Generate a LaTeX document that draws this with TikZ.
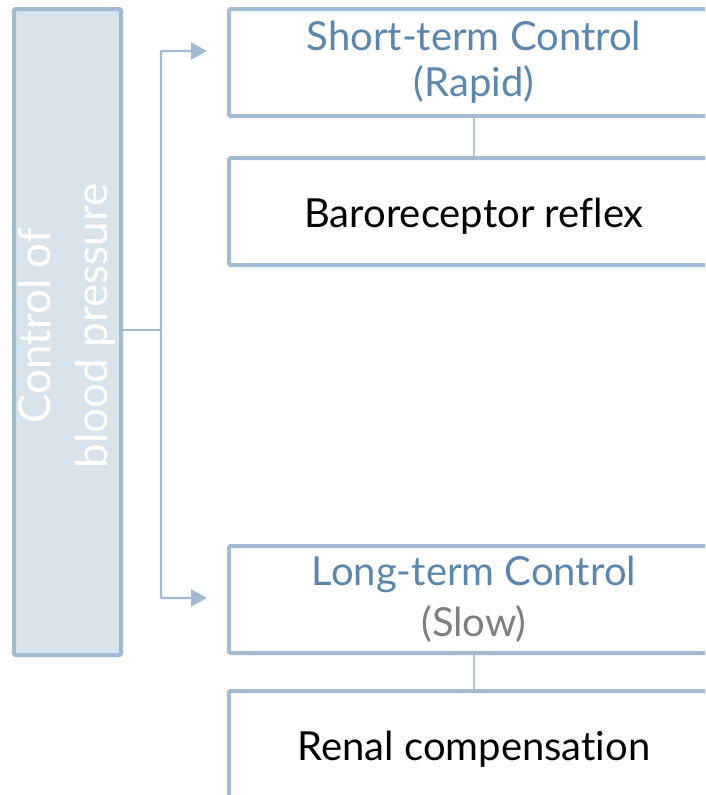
\documentclass[tikz,border=0pt]{standalone}
\usepackage{fontspec}
\setmainfont{Lato}[Ligatures=NoCommon]
\usetikzlibrary{arrows.meta}
\definecolor{edge}{HTML}{A3BBD2}
\definecolor{panel}{HTML}{D9E3EC}
\definecolor{head}{HTML}{5B87AF}
\definecolor{muted}{HTML}{7F7F7F}
\begin{document}
\begin{tikzpicture}[x=1pt,y=-1pt,
  sidebox/.style={draw=edge, fill=panel, line width=4pt, rounded corners=1.5pt,
    anchor=north west, minimum width=107pt, minimum height=646pt, inner sep=0pt},
  stagebox/.style={draw=edge, fill=white, line width=4pt, rounded corners=1.5pt,
    anchor=north west, minimum width=490pt, minimum height=107pt, inner sep=0pt,
    align=center, font=\fontsize{40}{46}\selectfont},
  oneline/.style={text height=36pt, text depth=4pt},
  link/.style={draw=edge, line width=2.2pt},
  tie/.style={draw=edge!85, line width=1.6pt},
  arrowhead/.style={-{Triangle[length=16pt,width=17pt]}}]
\useasboundingbox (0,0) rectangle (705,795);
\clip (0,0) rectangle (705,795);

% main category
\node[sidebox] (root) at (12,7) {};
\node[white, rotate=90, align=center, font=\fontsize{44}{57}\selectfont]
  (rootlabel) at ([xshift=-1pt, yshift=6pt]root.center) {Control of\\blood pressure};

% stages
\node[stagebox] (short) at (227,7)
  {\textcolor{head}{Short-term Control}\\\textcolor{head}{(Rapid)}};
\node[stagebox, oneline] (baro) at (227,156) {Baroreceptor reflex};
\node[stagebox, font=\fontsize{40}{51}\selectfont] (long) at (227,544)
  {\textcolor{head}{Long-term Control}\\\textcolor{muted}{(Slow)}};
\node[stagebox, oneline] (renal) at (227,689) {Renal compensation};

% branching connector
\coordinate (fork) at (161,330);
\coordinate (tipShort) at (207,51);
\coordinate (tipLong) at (207,598);
\draw[link] (root.east |- fork) -- (fork);
\draw[link, arrowhead, rounded corners=1pt] (fork) |- (tipShort);
\draw[link, arrowhead, rounded corners=1pt] (fork) |- (tipLong);

% stage to mechanism ties
\draw[tie] (short.south) -- (baro.north);
\draw[tie] (long.south) -- (renal.north);
\end{tikzpicture}
\end{document}
